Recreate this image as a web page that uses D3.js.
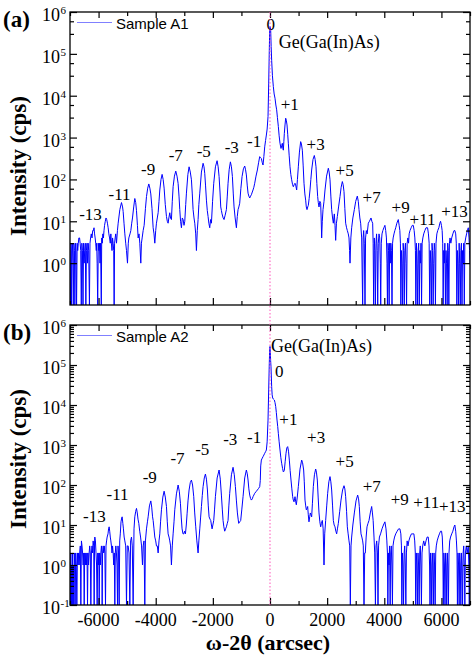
<!DOCTYPE html>
<html><head><meta charset="utf-8">
<script src="https://cdn.jsdelivr.net/npm/d3@7"></script>
<style>body{margin:0;background:#fff}svg{display:block}</style>
</head><body>
<svg id="chart" width="472" height="656"></svg>
<script>
// ---------- data ----------
const xMajorTicks = [-6000, -4000, -2000, 0, 2000, 4000, 6000];
const xMinorTicks = [-7000, -5000, -3000, -1000, 1000, 3000, 5000, 7000];
const yExponentsA = [6, 5, 4, 3, 2, 1, 0];
const yExponentsB = [6, 5, 4, 3, 2, 1, 0, -1];
const yMinorFactorsA = [3, 6];
const yMinorFactorsB = [2, 3, 4, 5, 6, 7, 8, 9];
const seriesNames = ["Sample A1", "Sample A2"];
const panelTags = ["(a)", "(b)"];

// omega-2theta (arcsec), intensity (cps)
const sampleA1 = [
[-7000,1],[-6985,0],[-6965,3],[-6950,0],[-6935,2],[-6915,3],[-6900,1],[-6885,0],[-6865,3],[-6845,2],[-6830,0],[-6810,3],[-6790,2],[-6770,0],[-6750,3],[-6730,2],[-6710,3],[-6690,4],[-6665,4],[-6645,3],[-6625,2],[-6605,0],[-6585,3],[-6565,2],[-6545,0],[-6525,3],[-6505,1],[-6485,2],[-6465,3],[-6445,0],[-6425,2],[-6405,3],[-6385,1],[-6365,3],[-6345,2],[-6320,0],[-6300,3],[-6280,4],[-6255,5],[-6230,4],[-6205,6],[-6180,6],[-6160,7],[-6140,5],[-6120,4],[-6100,3],[-6080,2],[-6065,3],[-6050,1],[-6030,0],[-6010,3],[-5990,2],[-5970,3],[-5950,1],[-5930,3],[-5905,0],[-5890,4],[-5870,3],[-5850,5],[-5830,4],[-5810,6],[-5790,8],[-5765,10],[-5740,12],[-5715,11],[-5690,9],[-5665,7],[-5640,5],[-5615,4],[-5590,3],[-5570,5],[-5550,3],[-5530,2],[-5510,4],[-5490,3],[-5470,2],[-5455,0],[-5440,3],[-5420,4],[-5400,5],
[-5372,3],[-5340,6],[-5314,9],[-5256,19],[-5198,28],[-5160,22],[-5139,17],[-5110,9],[-5081,5],[-5050,3],[-5023,2],[-4988,1],[-4960,3],[-4941,4],[-4900,5],[-4871,6],[-4840,9],[-4813,12],[-4770,22],[-4732,35],[-4700,28],[-4673,18],[-4640,8],[-4615,4],[-4585,5],[-4557,3],[-4522,1],[-4500,3],[-4475,4],[-4440,6],[-4405,8],[-4360,20],[-4323,39],[-4280,62],[-4242,78],[-4205,62],[-4172,45],[-4130,20],[-4090,7],[-4060,5],[-4032,3],[-4000,6],[-3974,9],[-3945,12],[-3915,16],[-3885,30],[-3857,56],[-3815,100],[-3776,132],[-3740,100],[-3706,62],[-3665,25],[-3624,13],[-3595,10],[-3566,9],[-3540,12],[-3508,16],[-3480,12],[-3450,11],[-3420,30],[-3391,67],[-3345,120],[-3298,158],[-3255,120],[-3216,80],[-3185,40],[-3158,19],[-3130,10],[-3100,7],[-3070,12],[-3041,11],[-3010,8],[-2983,10],[-2950,25],[-2925,47],[-2875,130],[-2832,200],[-2790,150],[-2750,98],[-2720,45],[-2692,19],[-2660,12],[-2633,9],[-2600,5],[-2575,2],[-2545,6],[-2517,11],[-2490,25],[-2458,47],[-2400,150],[-2342,243],[-2310,200],[-2284,140],[-2255,70],[-2225,32],[-2195,18],[-2167,13],[-2140,9],[-2109,7],[-2080,11],[-2050,9],[-2010,30],[-1969,81],[-1910,200],[-1852,280],[-1815,200],[-1782,117],[-1750,50],[-1724,22],[-1700,18],[-1678,15],[-1640,12],[-1608,11],[-1570,14],[-1526,19],[-1495,40],[-1468,81],[-1430,170],[-1386,263],[-1350,200],[-1316,117],[-1285,45],[-1258,22],[-1220,12],[-1176,7],[-1145,13],[-1118,19],[-1090,22],[-1060,27],[-1020,60],[-978,117],[-930,180],[-885,209],[-855,170],[-827,128],[-795,70],[-768,47],[-740,40],[-710,36],[-680,40],[-652,43],[-620,50],[-594,56],[-565,65],[-535,81],[-490,120],[-442,168],[-400,250],[-360,350],[-330,330],[-302,316],[-270,250],[-244,221],[-215,350],[-185,600],[-155,850],[-127,1150],[-100,1600],[-69,3160],[-45,20000],[-25,120000],[-10,380000],[0,450000],[12,420000],[24,370000],[40,150000],[58,70000],[85,30000],[117,16500],[145,11000],[175,8700],[205,6000],[233,4600],[260,3000],[292,1840],[320,1100],[350,730],[385,550],[410,650],[432,730],[450,560],[467,500],[485,800],[502,1260],[525,2000],[549,2900],[570,2600],[596,2000],[620,1200],[642,730],[670,380],[700,200],[730,130],[758,98],[790,75],[817,67],[845,75],[875,81],[905,70],[933,56],[960,100],[992,200],[1030,450],[1073,800],[1100,700],[1132,500],[1160,220],[1190,81],[1220,45],[1248,32],[1270,22],[1295,19],[1320,22],[1341,24],[1370,35],[1400,56],[1430,100],[1458,168],[1505,300],[1551,373],[1580,300],[1610,200],[1640,80],[1668,39],[1690,28],[1715,22],[1745,30],[1773,27],[1790,12],[1808,4],[1830,10],[1855,19],[1890,30],[1925,56],[1980,120],[2042,185],[2070,150],[2100,98],[2130,40],[2158,19],[2190,12],[2217,9],[2235,12],[2252,15],[2275,8],[2298,3.5],[2325,9],[2357,13],[2400,22],[2450,39],[2490,65],[2532,89],[2560,75],[2590,51],[2620,20],[2648,9],[2680,7],[2707,6],[2740,5],[2765,4],[2785,2],[2800,1],
[2830,4],[2858,7],[2900,12],[2952,19],[3000,30],[3056,40],[3090,30],[3115,19],[3145,12],[3173,9],[3208,4],[3243,0],[3260,4],[3278,6],[3300,3],[3325,0],[3345,4],[3371,6],[3400,5],[3441,9],[3480,10],[3535,12],[3565,10],[3593,9],[3610,3],[3628,0],[3650,4],[3670,2],[3690,0],[3710,3],[3730,5],[3750,2],[3770,0],[3790,3],[3815,5],[3840,4],[3860,1],[3875,0],[3895,3],[3920,5],[3950,6],[3985,7],[4022,8],[4050,6],[4075,4],[4095,1],[4110,0],[4130,3],[4150,2],[4170,0],[4190,3],[4210,1],[4230,3],[4250,2],[4270,0],[4290,3],[4310,4],[4340,5],[4370,6],[4400,7],[4440,9],[4490,11],[4520,8],[4545,6],[4565,3],[4580,0],[4600,2],[4620,1],[4640,0],[4660,3],[4680,2],[4700,0],[4720,2],[4740,3],[4760,1],[4780,0],[4800,3],[4825,4],[4850,3],[4870,5],[4900,6],[4940,7],[4980,8],[5015,8],[5045,6],[5070,4],[5090,2],[5105,0],[5125,3],[5145,1],[5165,0],[5185,2],[5205,3],[5225,0],[5245,2],[5265,1],[5285,3],[5305,0],[5325,3],[5350,4],[5380,5],[5420,6],[5460,7],[5515,7],[5545,5],[5570,3],[5590,0],[5610,2],[5630,1],[5650,0],[5670,3],[5690,2],[5710,0],[5730,1],[5750,3],[5770,2],[5790,0],[5810,3],[5840,5],[5870,6],[5910,7],[5945,9],[5970,10],[6000,8],[6025,6],[6045,3],[6060,0],[6080,2],[6100,1],[6120,3],[6140,0],[6160,2],[6180,1],[6200,0],[6220,3],[6240,2],[6260,0],[6280,3],[6300,4],[6330,3],[6360,4],[6400,5],[6440,6],[6470,6],[6500,5],[6520,3],[6540,0],[6560,2],[6580,1],[6600,0],[6620,3],[6640,1],[6660,0],[6680,2],[6700,3],[6720,0],[6740,2],[6760,1],[6780,3],[6800,0],[6820,3],[6850,4],[6880,5],[6910,6],[6940,7],[6965,4],[6985,2],[7000,1]
];

const sampleA2 = [
[-7000,1],[-6985,0],[-6970,2],[-6955,0],[-6940,1],[-6925,0],[-6910,2],[-6895,0],[-6880,1],[-6865,0],[-6850,2],[-6835,1],[-6820,0],[-6800,2],[-6780,1],[-6760,0],[-6740,2],[-6720,1],[-6700,2],[-6680,1],[-6660,2],[-6640,3],[-6620,0],[-6600,4],[-6580,3],[-6560,2],[-6540,1],[-6520,2],[-6503,0],[-6485,2],[-6465,1],[-6445,2],[-6425,1],[-6405,2],[-6387,0],[-6370,2],[-6350,1],[-6330,2],[-6310,3],[-6290,2],[-6270,0],[-6250,2],[-6230,3],[-6210,2],[-6190,4],[-6170,3],[-6154,0],[-6140,4],[-6131,5],[-6110,4],[-6090,2],[-6070,1],[-6049,0],[-6030,2],[-6010,1],[-5990,2],[-5979,0],[-5960,2],[-5940,1],[-5920,2],[-5900,3],[-5885,2],[-5874,0],[-5860,2],[-5840,3],[-5820,2],[-5800,3],[-5780,2],[-5757,0],[-5740,3],[-5720,4],[-5700,5],[-5670,6],[-5650,8],[-5630,9],[-5610,7],[-5590,5],[-5570,4],[-5550,3],[-5530,2],[-5510,3],[-5490,2],[-5470,1],[-5450,2],[-5431,0],[-5415,2],[-5395,3],[-5375,2],[-5355,1],[-5337,0],[-5320,3],[-5300,2],
[-5279,0],[-5260,4],[-5240,6],[-5215,12],[-5190,15],[-5175,16],[-5150,11],[-5130,8],[-5105,5],[-5081,4],[-5050,3],[-5023,0],[-4995,3],[-4965,3],[-4935,2],[-4906,0],[-4878,4],[-4848,5],[-4820,3],[-4790,0],[-4760,8],[-4732,16],[-4700,22],[-4673,26],[-4645,20],[-4620,14],[-4592,11],[-4560,7],[-4530,5],[-4495,3],[-4463,1],[-4440,3],[-4410,4],[-4382,0],[-4360,4],[-4323,8],[-4290,12],[-4265,16],[-4220,30],[-4172,40],[-4140,28],[-4110,16],[-4090,13],[-4060,8],[-4032,5],[-4000,4],[-3974,3],[-3945,3],[-3915,2],[-3885,4],[-3857,6],[-3830,12],[-3799,24],[-3750,50],[-3706,70],[-3665,50],[-3624,29],[-3595,12],[-3566,6],[-3535,5],[-3508,4],[-3480,3],[-3450,1],[-3420,3],[-3391,6],[-3360,12],[-3333,24],[-3275,60],[-3216,100],[-3175,70],[-3135,35],[-3105,15],[-3077,8],[-3045,6],[-3018,6],[-2990,7],[-2960,6],[-2930,10],[-2902,19],[-2870,40],[-2832,75],[-2790,115],[-2750,133],[-2710,100],[-2669,51],[-2635,20],[-2599,9],[-2560,4],[-2517,2],[-2490,4],[-2458,8],[-2430,15],[-2400,29],[-2370,55],[-2342,91],[-2300,150],[-2260,188],[-2225,140],[-2190,75],[-2160,30],[-2132,16],[-2100,14],[-2074,13],[-2050,10],[-2027,8],[-2000,10],[-1969,13],[-1940,25],[-1911,51],[-1850,150],[-1782,237],[-1740,140],[-1701,56],[-1670,25],[-1643,13],[-1615,9],[-1585,7],[-1555,8],[-1526,9],[-1495,11],[-1468,13],[-1440,30],[-1410,62],[-1350,180],[-1293,277],[-1250,180],[-1211,91],[-1175,40],[-1141,20],[-1115,14],[-1095,11],[-1060,12],[-1025,13],[-985,25],[-943,51],[-885,150],[-827,237],[-795,190],[-768,133],[-740,80],[-710,56],[-680,46],[-652,42],[-620,45],[-594,51],[-565,56],[-535,62],[-490,68],[-442,75],[-400,82],[-360,91],[-340,130],[-325,300],[-302,420],[-270,470],[-244,510],[-215,560],[-185,620],[-155,680],[-127,750],[-100,1200],[-69,4200],[-45,25000],[-25,110000],[-10,250000],[0,290000],[12,200000],[22,130000],[35,90000],[58,29000],[75,18000],[93,15000],[120,14000],[152,13300],[175,11500],[200,9100],[222,6500],[246,4200],[270,2900],[292,1960],[320,1200],[350,750],[380,480],[408,350],[440,260],[467,212],[485,220],[502,234],[530,380],[560,620],[590,850],[619,910],[648,700],[677,420],[705,230],[735,133],[765,80],[793,51],[815,42],[840,38],[860,45],[875,51],[900,38],[922,32],[955,50],[992,91],[1050,250],[1108,420],[1140,360],[1178,237],[1200,120],[1225,42],[1250,30],[1271,24],[1295,26],[1318,29],[1340,18],[1364,12],[1390,16],[1411,20],[1435,18],[1458,16],[1485,35],[1516,91],[1555,180],[1598,251],[1625,210],[1656,133],[1685,50],[1715,20],[1745,12],[1773,9],[1800,11],[1831,13],[1860,8],[1890,1],[1915,6],[1948,13],[1985,30],[2018,62],[2060,120],[2100,162],[2130,120],[2158,75],[2190,30],[2217,13],[2245,10],[2275,9],[2305,7],[2333,6],[2360,8],[2392,11],[2440,22],[2485,42],[2540,75],[2590,96],[2620,80],[2648,51],[2680,22],[2707,9],[2735,6],[2765,4],[2790,3],[2812,0],[2835,3],[2858,5],[2900,10],[2952,20],[3010,40],[3068,56],[3100,45],[3126,29],[3155,12],[3185,6],[3215,5],[3243,4],[3265,3],[3290,0],[3315,2],[3336,2],[3365,5],[3395,9],[3430,11],[3465,13],[3510,20],[3558,29],[3585,20],[3610,13],[3640,5],
[3665,2],[3690,0],[3710,3],[3735,4],[3760,2],[3780,0],[3800,3],[3830,5],[3870,6],[3920,8],[3970,10],[4022,12],[4060,8],[4090,4],[4110,2],[4125,0],[4145,2],[4165,1],[4185,3],[4205,0],[4225,2],[4245,3],[4265,1],[4285,0],[4305,3],[4330,4],[4360,5],[4400,6],[4450,7],[4500,8],[4547,8],[4580,6],[4600,3],[4615,0],[4635,2],[4655,1],[4675,0],[4695,2],[4715,3],[4735,1],[4755,0],[4775,2],[4800,4],[4830,3],[4860,4],[4900,5],[4950,6],[5000,6],[5036,6],[5065,4],[5085,2],[5100,0],[5120,2],[5140,1],[5160,0],[5180,2],[5200,1],[5220,0],[5240,2],[5260,3],[5280,1],[5300,0],[5320,2],[5345,3],[5380,4],[5420,3],[5460,4],[5500,5],[5538,5],[5565,3],[5585,1],[5600,0],[5620,2],[5640,1],[5660,0],[5680,2],[5700,1],[5720,0],[5740,2],[5760,1],[5780,0],[5800,2],[5820,3],[5850,4],[5890,5],[5930,6],[5970,7],[6005,7],[6030,5],[6050,2],[6065,0],[6085,2],[6105,1],[6125,0],[6145,2],[6165,1],[6185,0],[6205,2],[6225,1],[6245,0],[6265,2],[6290,4],[6320,5],[6360,6],[6400,7],[6440,9],[6470,10],[6500,7],[6525,4],[6545,2],[6560,0],[6580,2],[6600,1],[6620,0],[6640,2],[6660,1],[6680,0],[6700,2],[6720,1],[6740,0],[6760,2],[6780,3],[6800,1],[6820,0],[6840,2],[6870,3],[6900,2],[6940,3],[6960,1],[6975,0],[6990,2],[7000,1]
];

// satellite-peak annotations: text, angle (arcsec), intensity (cps)
const peakLabelsA1 = [
["-13",-6281,10.7],["-11",-5267,32],["-9",-4266,128],["-7",-3298,280],["-5",-2319,350],["-3",-1339,420],["-1",-553,586],
["0",24,380000],["+1",689,4560],["+3",1598,505],["+5",2612,123],["+7",3556,27],["+9",4571,15.5],["+11",5340,8.2],["+13",6459,12.9]
];
const peakLabelsA2 = [
["-13",-6148,12.1],["-11",-5337,42],["-9",-4207,114],["-7",-3238,329],["-5",-2371,562],["-3",-1392,1000],["-1",-553,1140],
["0",322,51000],["+1",643,3160],["+3",1616,1100],["+5",2612,287],["+7",3563,68],["+9",4543,31.6],["+11",5469,26],["+13",6378,21.5]
];
const layerLabelA1 = ["Ge(Ga(In)As)", 304, 136000];
const layerLabelA2 = ["Ge(Ga(In)As)", 35, 215000];

// ---------- layout ----------
const W = 472, H = 656;
const plotLeft = 70, plotRight = 470;
const serif = "'Liberation Serif','Times New Roman',Times,serif";
const sans = "'Liberation Sans',Arial,Helvetica,sans-serif";
const lineColor = "#0000ff";

const panels = [
  {data: sampleA1, labels: peakLabelsA1, layer: layerLabelA1, name: seriesNames[0], tag: panelTags[0],
   top: 12, bottom: 305, exps: yExponentsA, minor: yMinorFactorsA, showX: false, titleY: 166},
  {data: sampleA2, labels: peakLabelsA2, layer: layerLabelA2, name: seriesNames[1], tag: panelTags[1],
   top: 325, bottom: 605, exps: yExponentsB, minor: yMinorFactorsB, showX: true, titleY: 459}
];

const svg = d3.select("#chart");
svg.append("rect").attr("width", W).attr("height", H).attr("fill", "#fff");

const x = d3.scaleLinear().domain([-7000, 7000]).range([plotLeft, plotRight]);

panels.forEach((p, i) => {
  const y = d3.scaleLog().domain([0.1, 1e6]).range([p.bottom, p.top]).clamp(true);
  const g = svg.append("g");

  const clipId = "clip" + i;
  svg.append("defs").append("clipPath").attr("id", clipId)
    .append("rect").attr("x", plotLeft).attr("y", p.top)
    .attr("width", plotRight - plotLeft).attr("height", p.bottom - p.top);

  // data line
  g.append("path").datum(p.data)
    .attr("clip-path", `url(#${clipId})`)
    .attr("fill", "none").attr("stroke", lineColor).attr("stroke-width", 1)
    .attr("stroke-linejoin", "round")
    .attr("d", d3.line().x(d => x(d[0])).y(d => y(d[1])));

  // axes (ticks inward)
  const majorY = p.exps.map(e => Math.pow(10, e));
  const minorY = [];
  p.exps.forEach(e => { if (e < 6) p.minor.forEach(m => minorY.push(m * Math.pow(10, e))); });

  const styleAxis = sel => {
    sel.select(".domain").remove();
    sel.selectAll("line").attr("stroke", "#000").attr("stroke-width", 1.2);
  };
  g.append("g").attr("transform", `translate(${plotLeft},0)`)
    .call(d3.axisLeft(y).tickValues(majorY).tickSize(-7).tickSizeOuter(0).tickFormat("")).call(styleAxis);
  g.append("g").attr("transform", `translate(${plotLeft},0)`)
    .call(d3.axisLeft(y).tickValues(minorY).tickSize(-4).tickSizeOuter(0).tickFormat("")).call(styleAxis);
  g.append("g").attr("transform", `translate(${plotRight},0)`)
    .call(d3.axisRight(y).tickValues(majorY).tickSize(-7).tickSizeOuter(0).tickFormat("")).call(styleAxis);
  g.append("g").attr("transform", `translate(${plotRight},0)`)
    .call(d3.axisRight(y).tickValues(minorY).tickSize(-4).tickSizeOuter(0).tickFormat("")).call(styleAxis);
  g.append("g").attr("transform", `translate(0,${p.bottom})`)
    .call(d3.axisBottom(x).tickValues(xMajorTicks).tickSize(-7).tickSizeOuter(0).tickFormat("")).call(styleAxis);
  g.append("g").attr("transform", `translate(0,${p.bottom})`)
    .call(d3.axisBottom(x).tickValues(xMinorTicks).tickSize(-4).tickSizeOuter(0).tickFormat("")).call(styleAxis);
  g.append("g").attr("transform", `translate(0,${p.top})`)
    .call(d3.axisTop(x).tickValues(xMajorTicks).tickSize(-6).tickSizeOuter(0).tickFormat("")).call(styleAxis);
  g.append("g").attr("transform", `translate(0,${p.top})`)
    .call(d3.axisTop(x).tickValues(xMinorTicks).tickSize(-4).tickSizeOuter(0).tickFormat("")).call(styleAxis);

  // frame
  g.append("rect").attr("x", plotLeft).attr("y", p.top)
    .attr("width", plotRight - plotLeft).attr("height", p.bottom - p.top)
    .attr("fill", "none").attr("stroke", "#000").attr("stroke-width", 1.3);

  // y tick labels 10^n
  p.exps.forEach(e => {
    const yy = y(Math.pow(10, e));
    g.append("text").attr("x", 60).attr("y", yy + 9).attr("text-anchor", "end")
      .attr("font-family", serif).attr("font-size", 18).attr("fill", "#000").text("10");
    g.append("text").attr("x", 60.5).attr("y", yy + 2).attr("text-anchor", "start")
      .attr("font-family", serif).attr("font-size", 11).attr("fill", "#000").text(String(e));
  });

  // x tick labels
  if (p.showX) {
    xMajorTicks.forEach(t => {
      g.append("text").attr("x", x(t)).attr("y", p.bottom + 20.5).attr("text-anchor", "middle")
        .attr("font-family", serif).attr("font-size", 18).attr("fill", "#000").text(String(t));
    });
  }

  // y title
  g.append("text").attr("transform", `translate(26,${p.titleY}) rotate(-90)`)
    .attr("text-anchor", "middle").attr("font-family", serif).attr("font-weight", "bold")
    .attr("font-size", 23).attr("fill", "#000").text("Intensity (cps)");

  // panel tag
  g.append("text").attr("x", 3).attr("y", p.top + 15).attr("font-family", serif)
    .attr("font-weight", "bold").attr("font-size", 23).attr("fill", "#000").text(p.tag);

  // legend
  g.append("line").attr("x1", 77).attr("x2", 112).attr("y1", p.top + 10.5).attr("y2", p.top + 10.5)
    .attr("stroke", "#8080ff").attr("stroke-width", 1.2);
  g.append("text").attr("x", 116).attr("y", p.top + 16.5).attr("font-family", sans)
    .attr("font-size", 15).attr("fill", "#000").text(p.name);

  // peak labels
  g.selectAll("text.pk").data(p.labels).enter().append("text").attr("class", "pk")
    .attr("x", d => x(d[1])).attr("y", d => y(d[2])).attr("text-anchor", "middle")
    .attr("font-family", serif).attr("font-size", 17).attr("fill", "#000").text(d => d[0]);
  g.append("text").attr("x", x(p.layer[1])).attr("y", y(p.layer[2]))
    .attr("font-family", serif).attr("font-size", 18).attr("fill", "#000").text(p.layer[0]);
});

// zero-order reference line through both panels
svg.append("line").attr("x1", x(0)).attr("x2", x(0))
  .attr("y1", panels[0].top).attr("y2", panels[1].bottom)
  .attr("stroke", "#ff55bb").attr("stroke-width", 1).attr("stroke-dasharray", "1.5,2");

// x title
svg.append("text").attr("x", 268).attr("y", 650).attr("text-anchor", "middle")
  .attr("font-family", serif).attr("font-weight", "bold").attr("font-size", 22)
  .attr("fill", "#000").text("ω-2θ (arcsec)");
</script>
</body></html>
